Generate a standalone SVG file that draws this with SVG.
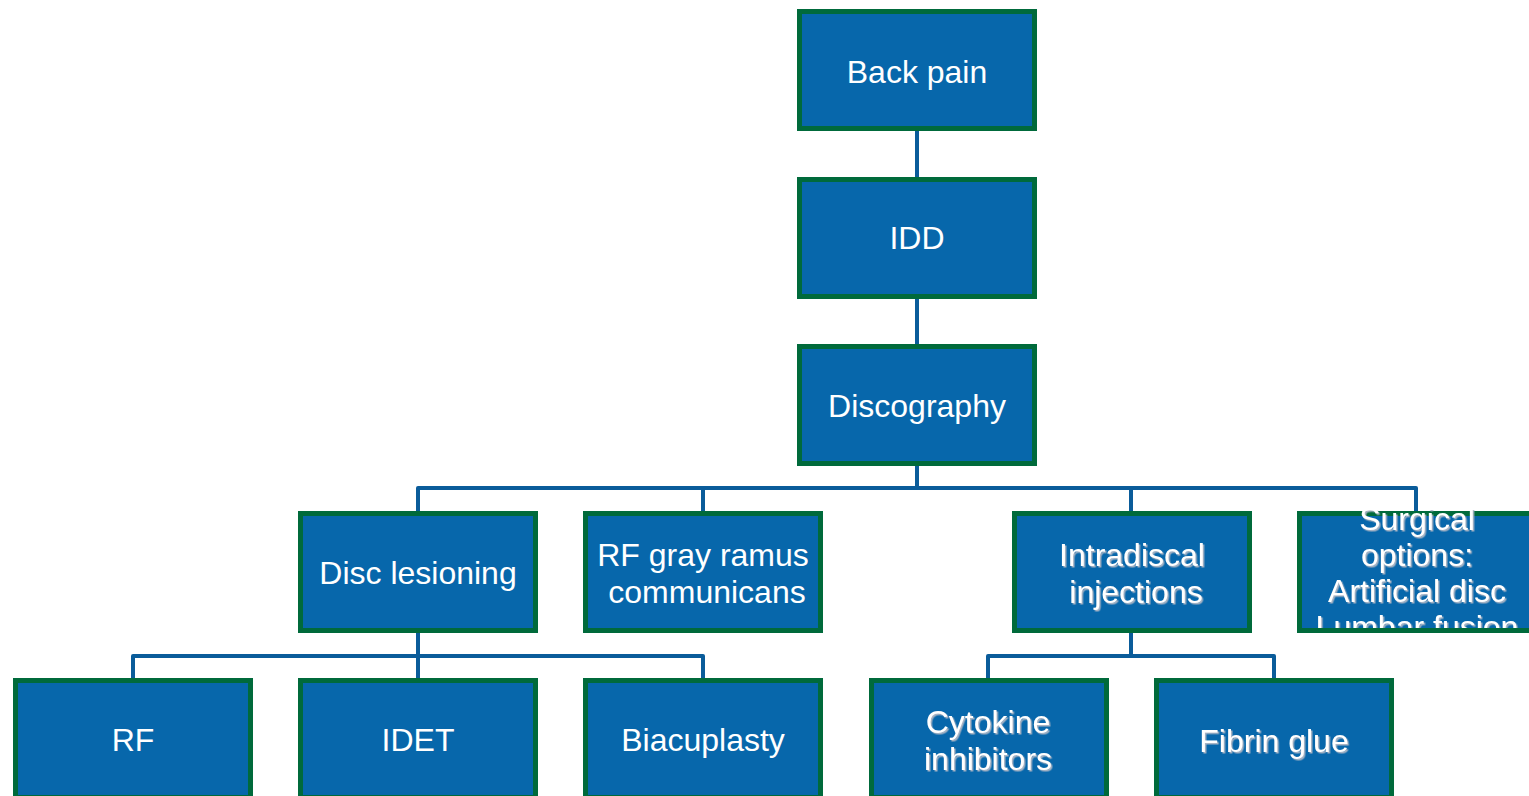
<svg xmlns="http://www.w3.org/2000/svg" width="1529" height="796" viewBox="0 0 1529 796">
<style>
.box{fill:#0767AB;stroke:#006A3B;stroke-width:5;}
.lbl{font-family:"Liberation Sans",Arial,sans-serif;font-size:32px;fill:#FFFFFF;text-anchor:middle;}
.sh{filter:url(#shadow);}
.conn{fill:none;stroke:#0A5C9A;stroke-width:4;stroke-linejoin:round;stroke-linecap:butt;}
</style>
<defs>
<filter id="shadow" x="-10%" y="-20%" width="120%" height="150%">
<feDropShadow dx="1.5" dy="1.5" stdDeviation="0.7" flood-color="#A8B4C4" flood-opacity="1"/>
</filter>
<clipPath id="surgClip"><rect x="1297" y="510" width="232" height="118"/></clipPath>
</defs>
<rect width="1529" height="796" fill="#FFFFFF"/>
<g id="connectors">
<path class="conn" d="M917 130 V178"/>
<path class="conn" d="M917 297 V345"/>
<path class="conn" d="M917 465 V488"/>
<path class="conn" d="M418 512 V488 H1416 V512"/>
<path class="conn" d="M703 488 V512"/>
<path class="conn" d="M1131 488 V512"/>
<path class="conn" d="M418 632 V679"/>
<path class="conn" d="M133 679 V656 H703 V679"/>
<path class="conn" d="M1131 632 V656"/>
<path class="conn" d="M988 679 V656 H1274 V679"/>
</g>
<g id="node-back-pain"><rect class="box" x="799.5" y="11.5" width="235" height="117"/><text class="lbl" x="917" y="83">Back pain</text></g>
<g id="node-idd"><rect class="box" x="799.5" y="179.5" width="235" height="117"/><text class="lbl" x="917" y="249">IDD</text></g>
<g id="node-discography"><rect class="box" x="799.5" y="346.5" width="235" height="117"/><text class="lbl" x="917" y="417">Discography</text></g>
<g id="node-disc-lesioning"><rect class="box" x="300.5" y="513.5" width="235" height="117"/><text class="lbl" x="418" y="584">Disc lesioning</text></g>
<g id="node-rf-gray-ramus"><rect class="box" x="585.5" y="513.5" width="235" height="117"/><text class="lbl" x="703" y="566">RF gray ramus</text><text class="lbl" x="707" y="603">communicans</text></g>
<g id="node-intradiscal"><rect class="box" x="1014.5" y="513.5" width="235" height="117"/><g class="sh"><text class="lbl" x="1132" y="566">Intradiscal</text><text class="lbl" x="1136" y="603">injections</text></g></g>
<g id="node-surgical"><rect class="box" x="1299.5" y="513.5" width="235" height="117"/><g clip-path="url(#surgClip)"><g class="sh"><text class="lbl" x="1417" y="530">Surgical</text><text class="lbl" x="1417" y="566">options:</text><text class="lbl" x="1417" y="602">Artificial disc</text><text class="lbl" x="1417" y="638">Lumbar fusion</text></g></g></g>
<g id="node-rf"><rect class="box" x="15.5" y="680.5" width="235" height="117"/><text class="lbl" x="133" y="751">RF</text></g>
<g id="node-idet"><rect class="box" x="300.5" y="680.5" width="235" height="117"/><text class="lbl" x="418" y="751">IDET</text></g>
<g id="node-biacuplasty"><rect class="box" x="585.5" y="680.5" width="235" height="117"/><text class="lbl" x="703" y="751">Biacuplasty</text></g>
<g id="node-cytokine"><rect class="box" x="871.5" y="680.5" width="235" height="117"/><g class="sh"><text class="lbl" x="988" y="733">Cytokine</text><text class="lbl" x="988" y="770">inhibitors</text></g></g>
<g id="node-fibrin-glue"><rect class="box" x="1156.5" y="680.5" width="235" height="117"/><g class="sh"><text class="lbl" x="1274" y="752">Fibrin glue</text></g></g>
</svg>
